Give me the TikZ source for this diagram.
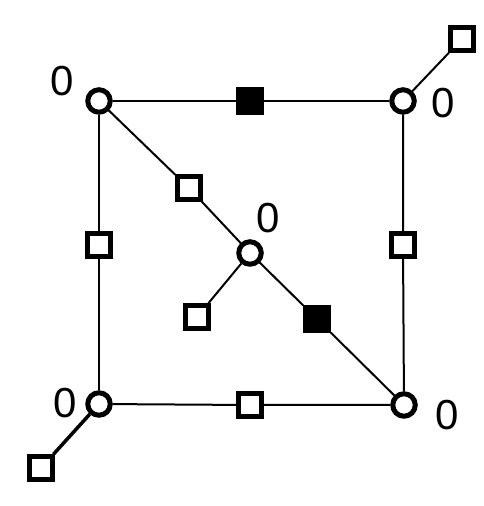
\documentclass[tikz,border=0pt]{standalone}
\usepackage{fontspec}
\setmainfont{Liberation Sans}
\usetikzlibrary{positioning}
\tikzset{vert/.style = {draw, circle, line width = 5, fill = white, inner sep = 0, minimum size = 22.5}}
\tikzset{sq/.style = {draw, rectangle, line width = 5, fill = white, inner sep = 0, minimum size = 22.5}}
\tikzset{sqf/.style = {sq, fill = black}}
\tikzset{lbl/.style = {inner sep = 0, font = \fontsize{42}{50}\selectfont}}
\begin{document}
\begin{tikzpicture}[x=1pt, y=1pt]
    \useasboundingbox (0, 0) rectangle (484, 506);

    \node [vert] (tl) at (99, 405) {};
    \node [vert] (tr) at (403, 405) {};
    \node [vert] (bl) at (99, 102) {};
    \node [vert] (br) at (404, 101) {};
    \node [vert] (c) at (250, 253) {};

    \node [sqf] (top) at (250, 405) {};
    \node [sq] (left) at (99, 261) {};
    \node [sq] (right) at (403, 261) {};
    \node [sq] (bottom) at (250, 101) {};
    \node [sq] (du) at (189, 318) {};
    \node [sqf] (dl) at (317, 187) {};
    \node [sq] (lc) at (197, 189) {};
    \node [sq] (ltr) at (462, 467) {};
    \node [sq] (lbl) at (41, 38) {};

    \draw [line width = 2] (tl) -- (top) -- (tr);
    \draw [line width = 2] (bl) -- (bottom) -- (br);
    \draw [line width = 2] (tl) -- (left) -- (bl);
    \draw [line width = 2] (tr) -- (right) -- (br);
    \draw [line width = 2] (tl) -- (du) -- (c) -- (dl) -- (br);
    \draw [line width = 2] (c) -- (lc);
    \draw [line width = 2] (tr) -- (ltr);
    \draw [line width = 3.5] (bl) -- (lbl);

    \node [lbl] (ntl) at (62, 425) {0};
    \node [lbl] (ntr) at (443, 403) {0};
    \node [lbl] (nc) at (268, 288) {0};
    \node [lbl] (nbl) at (65, 103) {0};
    \node [lbl] (nbr) at (447, 91) {0};
\end{tikzpicture}
\end{document}
